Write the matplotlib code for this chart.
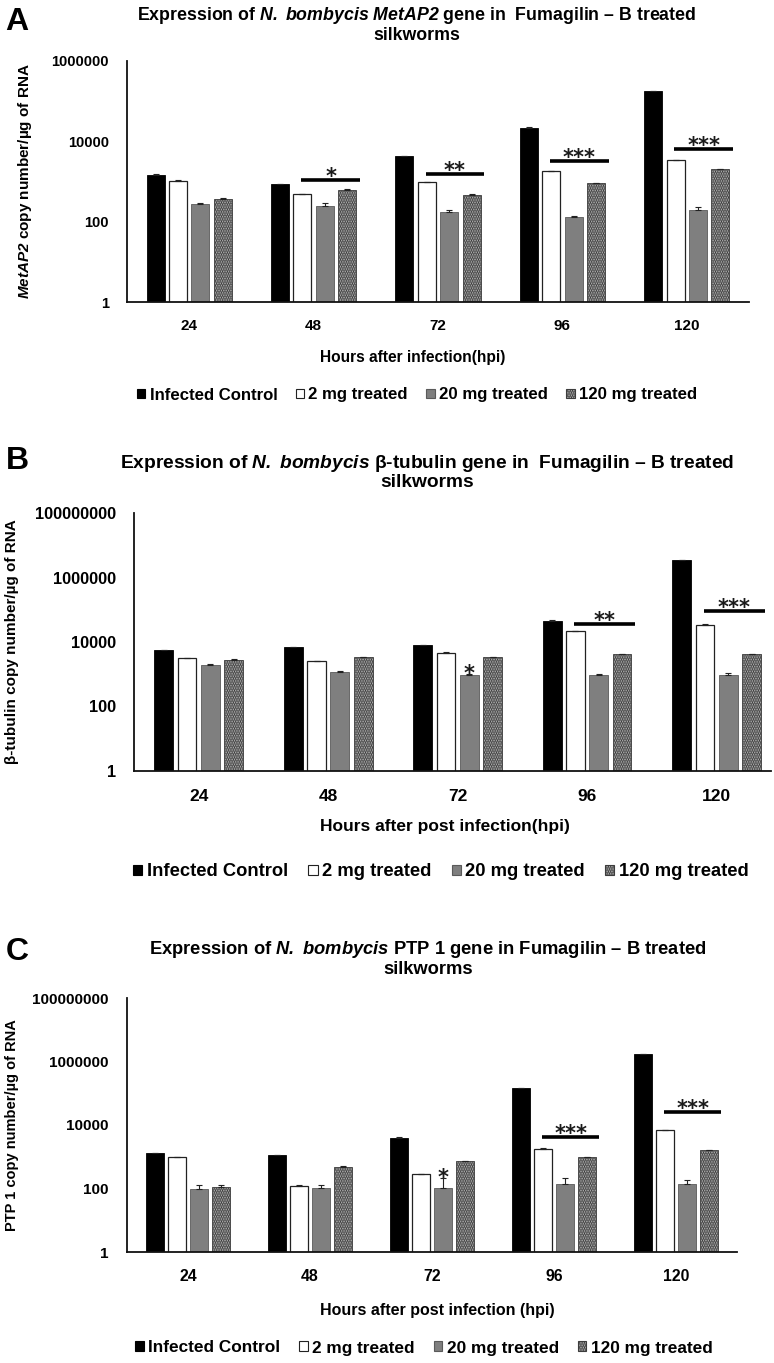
import matplotlib
matplotlib.use('Agg')
import numpy as np
import matplotlib.pyplot as plt
from matplotlib.patches import Patch
from matplotlib.ticker import NullLocator

W, H = 774, 1363

hours = ['24', '48', '72', '96', '120']
groups = ['Infected Control', '2 mg treated', '20 mg treated', '120 mg treated']

# Panel A - MetAP2 copy number
metap2_ic = [1450, 850, 4200, 22000, 180000]
metap2_2mg = [1050, 480, 950, 1800, 3400]
metap2_20mg = [270, 240, 170, 130, 190]
metap2_120mg = [370, 600, 460, 900, 2000]
metap2_ic_err = [60, 40, 150, 500, 3000]
metap2_2mg_err = [50, 20, 30, 60, 80]
metap2_20mg_err = [15, 50, 28, 5, 36]
metap2_120mg_err = [20, 40, 20, 40, 60]

# Panel B - beta-tubulin copy number
tub_ic = [5500, 6900, 7900, 45000, 3500000]
tub_2mg = [3200, 2500, 4600, 22000, 34000]
tub_20mg = [2000, 1200, 970, 950, 950]
tub_120mg = [2800, 3400, 3400, 4200, 4200]
tub_ic_err = [300, 300, 300, 1500, 60000]
tub_2mg_err = [100, 100, 150, 600, 900]
tub_20mg_err = [80, 50, 40, 40, 150]
tub_120mg_err = [100, 100, 100, 150, 150]

# Panel C - PTP 1 copy number
ptp_ic = [1300, 1100, 4000, 145000, 1700000]
ptp_2mg = [950, 118, 280, 1800, 6800]
ptp_20mg = [100, 106, 103, 135, 135]
ptp_120mg = [108, 460, 730, 950, 1600]
ptp_ic_err = [50, 60, 150, 4000, 40000]
ptp_2mg_err = [30, 12, 10, 80, 250]
ptp_20mg_err = [28, 25, 110, 80, 50]
ptp_120mg_err = [25, 46, 30, 60, 60]

# significance marks (group index, bar height, stars)
sig_a_groups = [1, 2, 3, 4]
sig_a_heights = [1100, 1550, 3150, 6400]
sig_a_stars = ['*', '**', '***', '***']
sig_b_groups = [3, 4]
sig_b_heights = [36000, 91000]
sig_b_stars = ['**', '***']
sig_c_groups = [3, 4]
sig_c_heights = [4200, 25700]
sig_c_stars = ['***', '***']
single_star_group = 2  # '*' over the 20 mg bar at 72 hpi (B and C)

yticks_a = [1, 100, 10000, 1000000]
yticklabels_a = ['1', '100', '10000', '1000000']
yticks_bc = [1, 100, 10000, 1000000, 100000000]
yticklabels_bc = ['1', '100', '10000', '1000000', '100000000']

plt.rcParams['font.family'] = ['Liberation Sans', 'DejaVu Sans']
plt.rcParams['font.weight'] = 'bold'
plt.rcParams['mathtext.fontset'] = 'custom'
plt.rcParams['mathtext.rm'] = 'Liberation Sans:italic:bold'
plt.rcParams['mathtext.it'] = 'Liberation Sans:italic:bold'
plt.rcParams['mathtext.bf'] = 'Liberation Sans:italic:bold'
plt.rcParams['hatch.color'] = '#3c3c3c'
plt.rcParams['hatch.linewidth'] = 1.5

styles = [
    dict(color='black', edgecolor='black', linewidth=0.6),
    dict(color='white', edgecolor='#222222', linewidth=0.9),
    dict(color='#7f7f7f', edgecolor='#5a5a5a', linewidth=0.6),
    dict(color='#bdbdbd', edgecolor='#3c3c3c', linewidth=0.6, hatch='.......'),
]
step = 0.18
width = 0.145
offsets = (np.arange(4) - 1.5) * step


def fx(px):
    return px / W


def fy(py):
    return 1 - py / H


def add_axes(left, right, top, bottom):
    return fig.add_axes([fx(left), fy(bottom), fx(right) - fx(left), (bottom - top) / H])


def draw_panel(ax, series, errors, yticks, yticklabels, sig_groups, sig_heights,
               sig_stars, fs, xmax=4.5, single=False):
    x = np.arange(len(hours))
    ax.set_yscale('log')
    for i in range(4):
        ax.bar(x + offsets[i], series[i], width, **styles[i], zorder=2)
        ax.errorbar(x + offsets[i], series[i], yerr=[np.zeros(len(hours)), errors[i]],
                    fmt='none', ecolor='#222222', elinewidth=0.8, capsize=2.5,
                    capthick=0.8, zorder=3)
    for g, h, s in zip(sig_groups, sig_heights, sig_stars):
        ax.plot([g + offsets[1] - 0.01, g + offsets[3] + width / 2 + 0.03], [h, h],
                color='black', lw=2.6, solid_capstyle='butt', zorder=4)
        ax.annotate(s, xy=(g + (offsets[1] + offsets[3] + width / 2) / 2 + 0.01, h),
                    xytext=(0, -2), textcoords='offset points', ha='center',
                    va='baseline', fontsize=15, family='DejaVu Sans',
                    fontweight='bold', color='#1a1a1a')
    if single:
        g = single_star_group
        top = series[2][g] + errors[2][g]
        ax.annotate('*', xy=(g + offsets[2], top), xytext=(0, -4),
                    textcoords='offset points', ha='center', va='baseline',
                    fontsize=15, family='DejaVu Sans', fontweight='bold',
                    color='#1a1a1a')
    ax.set_ylim(yticks[0], yticks[-1])
    ax.set_xlim(-0.5, xmax)
    ax.set_yticks(yticks)
    ax.set_yticklabels(yticklabels)
    ax.yaxis.set_minor_locator(NullLocator())
    ax.set_xticks(x)
    ax.set_xticklabels(hours)
    ax.tick_params(axis='y', length=0, pad=13, labelsize=fs['ytick'])
    ax.tick_params(axis='x', length=0, pad=fs['xpad'], labelsize=fs['xtick'])
    for side in ['top', 'right']:
        ax.spines[side].set_visible(False)
    for side in ['left', 'bottom']:
        ax.spines[side].set_linewidth(1.3)
        ax.spines[side].set_color('#111111')


def legend_handles():
    return [Patch(facecolor=s['color'], edgecolor=s['edgecolor'], hatch=s.get('hatch'),
                  linewidth=0.8) for s in styles]


fig = plt.figure(figsize=(W / 100, H / 100), dpi=100)

panels = [
    dict(box=(127, 749, 61, 302), xmax=4.5,
         series=[metap2_ic, metap2_2mg, metap2_20mg, metap2_120mg],
         errors=[metap2_ic_err, metap2_2mg_err, metap2_20mg_err, metap2_120mg_err],
         yticks=yticks_a, yticklabels=yticklabels_a,
         sig=(sig_a_groups, sig_a_heights, sig_a_stars), single=False,
         letter='A', letter_pos=(17, 22),
         title1=r'Expression of $N.$ $bombycis$ $MetAP2$ gene in  Fumagilin – B treated',
         title_pos=(417, 15, 35),
         ylabel=r'$MetAP2$ copy number/µg of RNA', ylabel_x=25,
         xlabel='Hours after infection(hpi)', xlabel_pos=(413, 358),
         legend_pos=(417, 395),
         fs=dict(ytick=10.5, xtick=11, xpad=12, title=12.8, ylabel=11, xlabel=11.2,
                 legend=12.1)),
    dict(box=(134, 771, 513, 771), xmax=4.42,
         series=[tub_ic, tub_2mg, tub_20mg, tub_120mg],
         errors=[tub_ic_err, tub_2mg_err, tub_20mg_err, tub_120mg_err],
         yticks=yticks_bc, yticklabels=yticklabels_bc,
         sig=(sig_b_groups, sig_b_heights, sig_b_stars), single=True,
         letter='B', letter_pos=(17, 461),
         title1=r'Expression of $N.$ $bombycis$ β-tubulin gene in  Fumagilin – B treated',
         title_pos=(427, 463, 483),
         ylabel='β-tubulin copy number/µg of RNA', ylabel_x=12,
         xlabel='Hours after post infection(hpi)', xlabel_pos=(445, 827),
         legend_pos=(441, 872),
         fs=dict(ytick=11.8, xtick=12.5, xpad=13, title=13.8, ylabel=11, xlabel=12.5,
                 legend=13.2)),
    dict(box=(127, 737, 998, 1252), xmax=4.5,
         series=[ptp_ic, ptp_2mg, ptp_20mg, ptp_120mg],
         errors=[ptp_ic_err, ptp_2mg_err, ptp_20mg_err, ptp_120mg_err],
         yticks=yticks_bc, yticklabels=yticklabels_bc,
         sig=(sig_c_groups, sig_c_heights, sig_c_stars), single=True,
         letter='C', letter_pos=(17, 952),
         title1=r'Expression of $N.$ $bombycis$ PTP 1 gene in Fumagilin – B treated',
         title_pos=(428, 949, 970),
         ylabel='PTP 1 copy number/µg of RNA', ylabel_x=12,
         xlabel='Hours after post infection (hpi)', xlabel_pos=(437, 1310),
         legend_pos=(424, 1348),
         fs=dict(ytick=11, xtick=11.4, xpad=12, title=13.2, ylabel=10.5, xlabel=11.5,
                 legend=12.4)),
]

for p in panels:
    left, right, top, bottom = p['box']
    ax = add_axes(left, right, top, bottom)
    fs = p['fs']
    draw_panel(ax, p['series'], p['errors'], p['yticks'], p['yticklabels'], *p['sig'],
               fs=fs, xmax=p['xmax'], single=p['single'])
    fig.text(fx(p['letter_pos'][0]), fy(p['letter_pos'][1]), p['letter'], fontsize=23,
             fontweight='bold', ha='center', va='center')
    tx, ty1, ty2 = p['title_pos']
    fig.text(fx(tx), fy(ty1), p['title1'], fontsize=fs['title'], ha='center', va='center')
    fig.text(fx(tx), fy(ty2), 'silkworms', fontsize=fs['title'], ha='center', va='center')
    fig.text(fx(p['ylabel_x']), fy((top + bottom) / 2), p['ylabel'], rotation=90,
             fontsize=fs['ylabel'], ha='center', va='center')
    fig.text(fx(p['xlabel_pos'][0]), fy(p['xlabel_pos'][1]), p['xlabel'],
             fontsize=fs['xlabel'], ha='center', va='center')
    fig.legend(handles=legend_handles(), labels=groups, loc='center',
               bbox_to_anchor=(fx(p['legend_pos'][0]), fy(p['legend_pos'][1])),
               ncol=4, frameon=False, fontsize=fs['legend'], handlelength=0.5,
               handleheight=0.5, handletextpad=0.25, columnspacing=1.1,
               borderpad=0, borderaxespad=0)

fig.savefig('out.png', dpi=100, facecolor='white')
